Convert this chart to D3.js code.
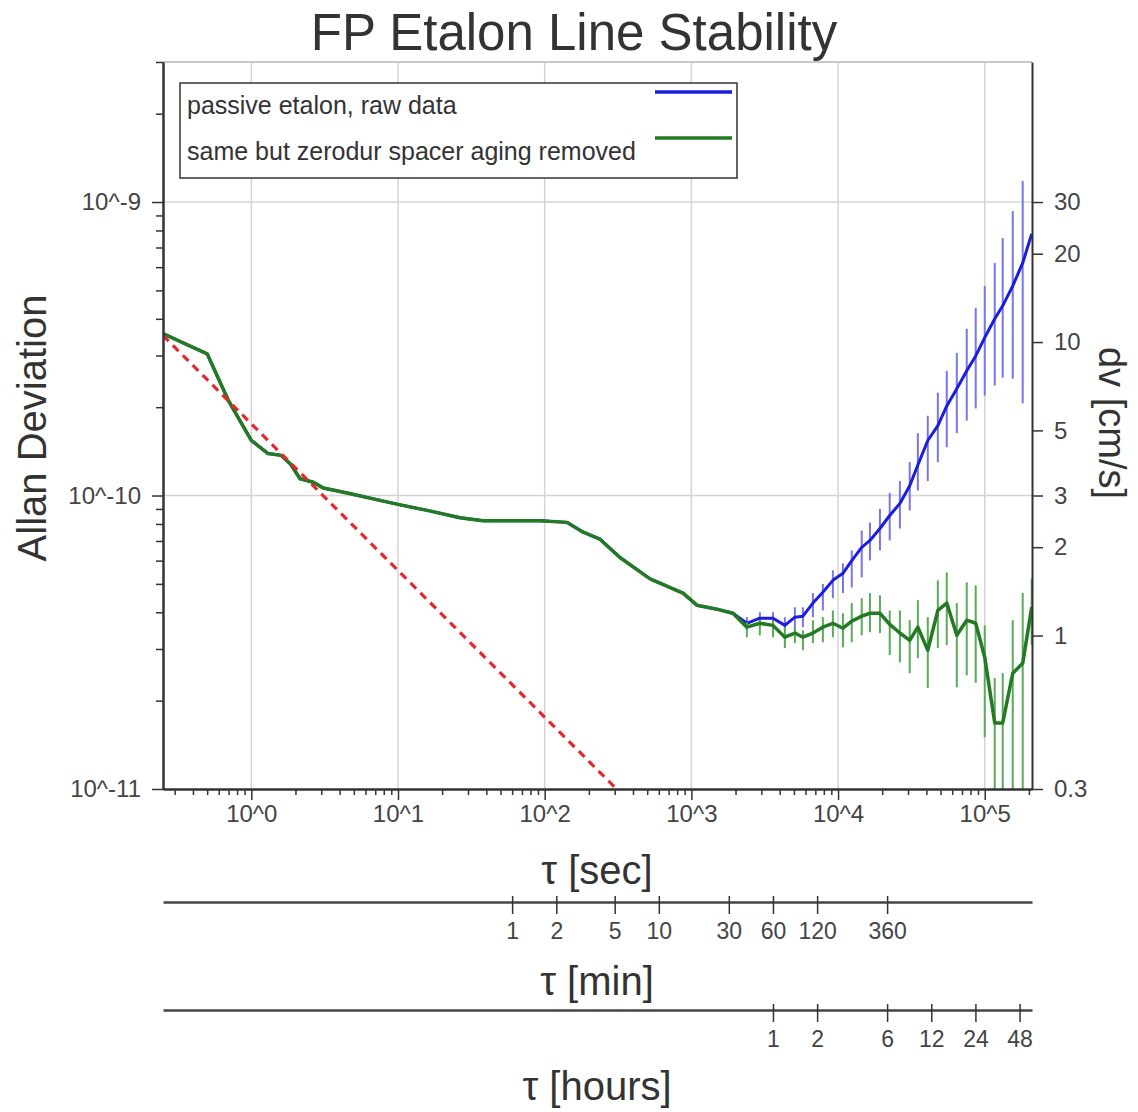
<!DOCTYPE html>
<html>
<head>
<meta charset="utf-8">
<script src="https://cdn.jsdelivr.net/npm/d3@7"></script>
<style>
body { margin: 0; background: #fff; }
text { font-family: "Liberation Sans", Arial, sans-serif; }
</style>
</head>
<body>
<svg id="chart" width="1138" height="1112"></svg>
<script>
// Allan deviation values are kept in units of 1e-10
var UNIT = 1e-10;
var CMS_PER_ADEV = 3e10; // dv [cm/s] = adev * c

// short averaging times: both curves coincide
var tauShort = [0.25, 0.5, 0.7, 1.0, 1.3, 1.6, 1.85, 2.15, 2.65, 3.1, 4.5, 9.3, 15.8, 26.5, 38,
    93, 142, 183, 238, 326, 523, 877, 1090, 1490, 1920];
var adevShort = [3.56, 3.04, 2.10, 1.54, 1.39, 1.37, 1.28, 1.14, 1.11, 1.06, 1.02, 0.94, 0.89, 0.84, 0.82,
    0.82, 0.81, 0.75, 0.71, 0.615, 0.52, 0.465, 0.423, 0.41, 0.397];

// long averaging times: curves split, with error bars
var tauLong = [2390, 2930, 3600, 4340, 5080, 5760, 6740, 7880, 9220, 10800,
    12400, 14500, 16500, 19300, 22500, 26400, 30800, 35000, 40900, 47900,
    55100, 64500, 75400, 86800, 100000, 117000, 132600, 155200, 181500, 209000];

var blueLong = [0.367, 0.382, 0.382, 0.361, 0.385, 0.388, 0.430, 0.468, 0.514, 0.543,
    0.60, 0.666, 0.703, 0.772, 0.855, 0.94, 1.08, 1.27, 1.54, 1.73,
    2.02, 2.31, 2.66, 2.99, 3.45, 4.00, 4.43, 5.18, 6.20, 7.78];
var blueHi = [0.385, 0.40, 0.40, 0.385, 0.416, 0.416, 0.465, 0.50, 0.556, 0.587,
    0.65, 0.76, 0.809, 0.90, 1.02, 1.12, 1.30, 1.63, 1.87, 2.24,
    2.66, 3.06, 3.70, 4.36, 5.18, 6.20, 7.54, 9.32, 11.79, 7.78];
var blueLo = [0.347, 0.356, 0.356, 0.347, 0.347, 0.356, 0.385, 0.406, 0.447, 0.465,
    0.486, 0.526, 0.601, 0.65, 0.703, 0.772, 0.889, 1.04, 1.12, 1.30,
    1.46, 1.63, 1.80, 1.98, 2.19, 2.37, 2.52, 2.50, 2.06, 7.78];

var greenLong = [0.356, 0.367, 0.361, 0.329, 0.340, 0.329, 0.340, 0.356, 0.367, 0.353,
    0.373, 0.388, 0.397, 0.397, 0.364, 0.340, 0.321, 0.356, 0.297, 0.406,
    0.430, 0.334, 0.376, 0.367, 0.281, 0.168, 0.168, 0.248, 0.268, 0.416];
var greenHi = [0.370, 0.376, 0.376, 0.356, 0.356, 0.347, 0.376, 0.385, 0.406, 0.397,
    0.430, 0.447, 0.465, 0.457, 0.406, 0.406, 0.376, 0.440, 0.385, 0.514,
    0.547, 0.430, 0.506, 0.494, 0.361, 0.239, 0.248, 0.376, 0.465, 0.52];
var greenLo = [0.329, 0.334, 0.329, 0.302, 0.314, 0.297, 0.314, 0.316, 0.329, 0.304,
    0.316, 0.334, 0.342, 0.340, 0.286, 0.270, 0.248, 0.279, 0.221, 0.302,
    0.309, 0.222, 0.244, 0.230, 0.150, 0.05, 0.05, 0.05, 0.05, 0.31];

// white frequency noise reference line (tau^-1/2), end points
var whiteTau = [0.25, 400];
var whiteAdev = [3.51, 0.0879];

var legendLabels = ['passive etalon, raw data', 'same but zerodur spacer aging removed'];
var xMajor = [1, 10, 100, 1e3, 1e4, 1e5];
var yMajor = [1e-11, 1e-10, 1e-9];
var dvTicks = [0.3, 1, 2, 3, 5, 10, 20, 30];
var minTicks = [1, 2, 5, 10, 30, 60, 120, 360];
var hourTicks = [1, 2, 6, 12, 24, 48];

var width = 1138, height = 1112;
var margin = {top: 62, right: 106, bottom: 323, left: 163};
var plotW = width - margin.left - margin.right;
var plotH = height - margin.top - margin.bottom;

var colors = {
    blue: '#1c1cdc', blueBar: '#7676ee',
    green: '#237a23', greenBar: '#5aaa5a',
    red: '#e8262e', axis: '#333', text: '#444', grid: '#d4d4d4'
};

var svg = d3.select('#chart');
var g = svg.append('g').attr('transform', 'translate(' + margin.left + ',' + margin.top + ')');

var x = d3.scaleLog().domain([0.25, 2.1e5]).range([0, plotW]);
var y = d3.scaleLog().domain([1e-11, 3e-9]).range([plotH, 0]);
var yR = d3.scaleLog().domain(y.domain().map(function(d) { return d * CMS_PER_ADEV; })).range([plotH, 0]);

function minors(lo, hi) {
    var out = [];
    for (var e = Math.floor(Math.log10(lo)); e <= Math.ceil(Math.log10(hi)); e++) {
        for (var m = 2; m <= 9; m++) {
            var v = m * Math.pow(10, e);
            if (v >= lo * 0.999 && v <= hi * 1.001) out.push(v);
        }
    }
    return out;
}
function pow10(d) { return '10^' + Math.round(Math.log10(d)); }

// grid
g.append('g').selectAll('line').data(xMajor).enter().append('line')
    .attr('x1', function(d) { return x(d); }).attr('x2', function(d) { return x(d); })
    .attr('y1', 0).attr('y2', plotH)
    .attr('stroke', colors.grid).attr('stroke-width', 1.5);
g.append('g').selectAll('line').data([1e-10, 1e-9]).enter().append('line')
    .attr('x1', 0).attr('x2', plotW)
    .attr('y1', function(d) { return y(d); }).attr('y2', function(d) { return y(d); })
    .attr('stroke', colors.grid).attr('stroke-width', 1.5);
g.append('line').attr('x1', 0).attr('x2', plotW).attr('y1', 0).attr('y2', 0)
    .attr('stroke', '#c8c8c8').attr('stroke-width', 2);

// clip
svg.append('defs').append('clipPath').attr('id', 'plotClip')
    .append('rect').attr('width', plotW).attr('height', plotH);
var plot = g.append('g').attr('clip-path', 'url(#plotClip)');

function buildSeries(vals, lo, hi) {
    var s = tauShort.map(function(t, i) { return {tau: t, v: adevShort[i] * UNIT}; });
    return s.concat(tauLong.map(function(t, i) {
        return {tau: t, v: vals[i] * UNIT, lo: lo[i] * UNIT, hi: hi[i] * UNIT};
    }));
}
var series = [
    {name: legendLabels[0], data: buildSeries(blueLong, blueLo, blueHi), line: colors.blue, bar: colors.blueBar, w: 3},
    {name: legendLabels[1], data: buildSeries(greenLong, greenLo, greenHi), line: colors.green, bar: colors.greenBar, w: 3.5}
];

var line = d3.line()
    .x(function(d) { return x(d.tau); })
    .y(function(d) { return y(d.v); });

series.forEach(function(s) {
    plot.append('g').selectAll('line')
        .data(s.data.filter(function(d) { return d.lo !== undefined && d.hi > d.lo; }))
        .enter().append('line')
        .attr('x1', function(d) { return x(d.tau); }).attr('x2', function(d) { return x(d.tau); })
        .attr('y1', function(d) { return y(d.hi); }).attr('y2', function(d) { return y(d.lo); })
        .attr('stroke', s.bar).attr('stroke-width', 2);
    plot.append('path').datum(s.data)
        .attr('d', line).attr('fill', 'none')
        .attr('stroke', s.line).attr('stroke-width', s.w)
        .attr('stroke-linejoin', 'round');
});

plot.append('path')
    .datum(whiteTau.map(function(t, i) { return {tau: t, v: whiteAdev[i] * UNIT}; }))
    .attr('d', line).attr('fill', 'none')
    .attr('stroke', colors.red).attr('stroke-width', 3.2)
    .attr('stroke-dasharray', '8,6');

// axes
function styleAxis(sel, fontSize) {
    sel.selectAll('path').attr('stroke', colors.axis).attr('stroke-width', 2);
    sel.selectAll('line').attr('stroke', colors.axis).attr('stroke-width', 1.5);
    sel.selectAll('text').attr('fill', colors.text).style('font-size', fontSize + 'px')
        .style('font-family', '"Liberation Sans", Arial, sans-serif');
}

var yMinor = minors(1e-11, 3e-9).filter(function(d) { return yMajor.indexOf(d) < 0; });
g.append('g').call(d3.axisLeft(y).tickValues(yMinor).tickSize(7).tickSizeOuter(0).tickFormat(''))
    .call(styleAxis, 24);
g.append('g').call(d3.axisLeft(y).tickValues(yMajor).tickSize(11).tickSizeOuter(0).tickFormat(pow10).tickPadding(11))
    .call(styleAxis, 24);

var xMinor = minors(0.25, 2.1e5);
g.append('g').attr('transform', 'translate(0,' + plotH + ')')
    .call(d3.axisBottom(x).tickValues(xMinor).tickSize(6).tickSizeOuter(0).tickFormat(''))
    .call(styleAxis, 24);
g.append('g').attr('transform', 'translate(0,' + plotH + ')')
    .call(d3.axisBottom(x).tickValues(xMajor).tickSize(11).tickSizeOuter(0).tickFormat(pow10).tickPadding(5))
    .call(styleAxis, 24);

g.append('g').attr('transform', 'translate(' + plotW + ',0)')
    .call(d3.axisRight(yR).tickValues(dvTicks).tickSize(11).tickSizeOuter(0).tickFormat(d3.format('~g')).tickPadding(11))
    .call(styleAxis, 24);

// secondary time axes (minutes, hours)
function timeAxis(ticks, factor, yPos) {
    var s = d3.scaleLog().domain(x.domain().map(function(d) { return d / factor; })).range(x.range());
    var ax = g.append('g').attr('transform', 'translate(0,' + yPos + ')')
        .call(d3.axisBottom(s).tickValues(ticks).tickSize(12).tickSizeOuter(0).tickFormat(d3.format('d')).tickPadding(9))
        .call(styleAxis, 23);
    ax.select('path').attr('stroke', '#444').attr('stroke-width', 2.5);
    ax.selectAll('.tick line').attr('y1', -6);
}
timeAxis(minTicks, 60, 840);
timeAxis(hourTicks, 3600, 948);

// titles
svg.append('text').attr('x', 574).attr('y', 50).attr('text-anchor', 'middle')
    .style('font-size', '51px').attr('fill', '#333').text('FP Etalon Line Stability');

var axisTitles = [
    {t: 'τ [sec]', x: 597, y: 884},
    {t: 'τ [min]', x: 597, y: 995},
    {t: 'τ [hours]', x: 597, y: 1100}
];
svg.selectAll('.xtitle').data(axisTitles).enter().append('text')
    .attr('x', function(d) { return d.x; }).attr('y', function(d) { return d.y; })
    .attr('text-anchor', 'middle').style('font-size', '40px').attr('fill', '#333')
    .text(function(d) { return d.t; });

svg.append('text').attr('transform', 'translate(46,428) rotate(-90)').attr('text-anchor', 'middle')
    .style('font-size', '40px').attr('fill', '#333').text('Allan Deviation');
svg.append('text').attr('transform', 'translate(1099,423) rotate(90)').attr('text-anchor', 'middle')
    .style('font-size', '38px').attr('fill', '#333').text('dv [cm/s]');

// legend
var legend = svg.append('g').attr('transform', 'translate(180,83)');
legend.append('rect').attr('width', 557).attr('height', 95)
    .attr('fill', '#fff').attr('stroke', '#333').attr('stroke-width', 1.5);
var items = legend.selectAll('.item').data(series).enter().append('g')
    .attr('transform', function(d, i) { return 'translate(0,' + (i * 46) + ')'; });
items.append('text').attr('x', 7).attr('y', 31).style('font-size', '25px').attr('fill', '#333')
    .text(function(d) { return d.name; });
items.append('line').attr('x1', 475).attr('x2', 552).attr('y1', 9).attr('y2', 9)
    .attr('stroke', function(d) { return d.line; }).attr('stroke-width', 3.5);
</script>
</body>
</html>
